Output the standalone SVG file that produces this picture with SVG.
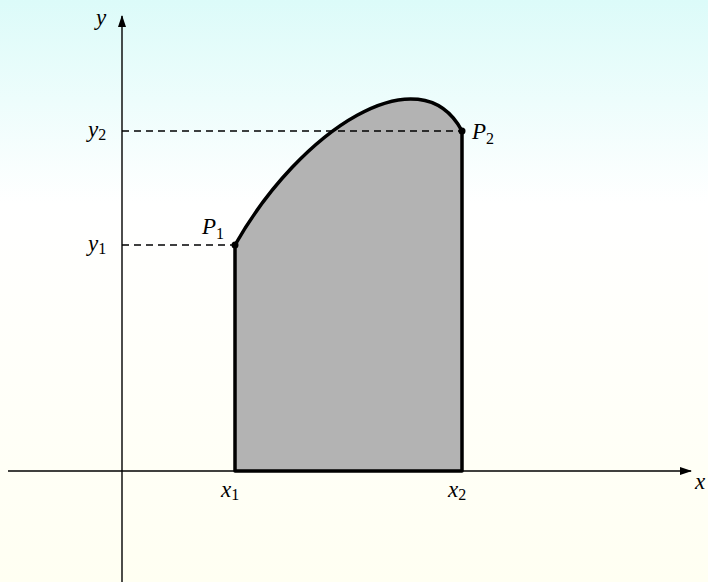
<svg xmlns="http://www.w3.org/2000/svg" width="708" height="582" viewBox="0 0 708 582">
<defs>
<linearGradient id="bg" x1="0" y1="0" x2="0" y2="1">
<stop offset="0" stop-color="#dcfbf9"/>
<stop offset="0.35" stop-color="#ffffff"/>
<stop offset="1" stop-color="#fffff2"/>
</linearGradient>
<marker id="arr" viewBox="0 0 12 8" refX="11" refY="4" markerWidth="12" markerHeight="8" markerUnits="userSpaceOnUse" orient="auto">
<path d="M0,0 L12,4 L0,8 z" fill="#000"/>
</marker>
<style>
.t{font-family:"Liberation Serif","DejaVu Serif",serif;font-style:italic;font-size:23px;fill:#000}
.s{font-family:"Liberation Serif","DejaVu Serif",serif;font-style:normal;font-size:16px;fill:#000}
.axis{stroke:#000;stroke-width:1.4;fill:none}
.dash{stroke:#000;stroke-width:1.4;stroke-dasharray:7 5;fill:none}
.bd{stroke:#000;stroke-width:3.5;fill:none;stroke-linejoin:round}
</style>
</defs>
<rect width="708" height="582" fill="url(#bg)"/>
<g id="region">
<path d="M235,471 L235,245 C300,130 420,52 462,131 L462,471 Z" fill="#b3b3b3" stroke="none"/>
<path class="bd" d="M235,471 L235,245 C300,130 420,52 462,131 L462,471 Z"/>
</g>
<g id="connectors">
<line class="axis" x1="8" y1="471" x2="691" y2="471" marker-end="url(#arr)"/>
<line class="axis" x1="122" y1="582" x2="122" y2="16" marker-end="url(#arr)"/>
<line class="dash" x1="122" y1="131" x2="462" y2="131"/>
<line class="dash" x1="122" y1="245" x2="235" y2="245"/>
</g>
<g id="P1">
<circle cx="235" cy="245" r="3.5" fill="#000"/>
<text class="t" x="202" y="234">P<tspan class="s" dy="5">1</tspan></text>
</g>
<g id="P2">
<circle cx="462" cy="131" r="3.5" fill="#000"/>
<text class="t" x="472" y="139">P<tspan class="s" dy="5">2</tspan></text>
</g>
<g id="labels">
<text class="t" x="96" y="25">y</text>
<text class="t" x="88" y="137">y<tspan class="s" dy="3">2</tspan></text>
<text class="t" x="88" y="251">y<tspan class="s" dy="3">1</tspan></text>
<text class="t" x="221" y="497">x<tspan class="s" dy="3">1</tspan></text>
<text class="t" x="448" y="497">x<tspan class="s" dy="3">2</tspan></text>
<text class="t" x="695" y="489">x</text>
</g>
</svg>
